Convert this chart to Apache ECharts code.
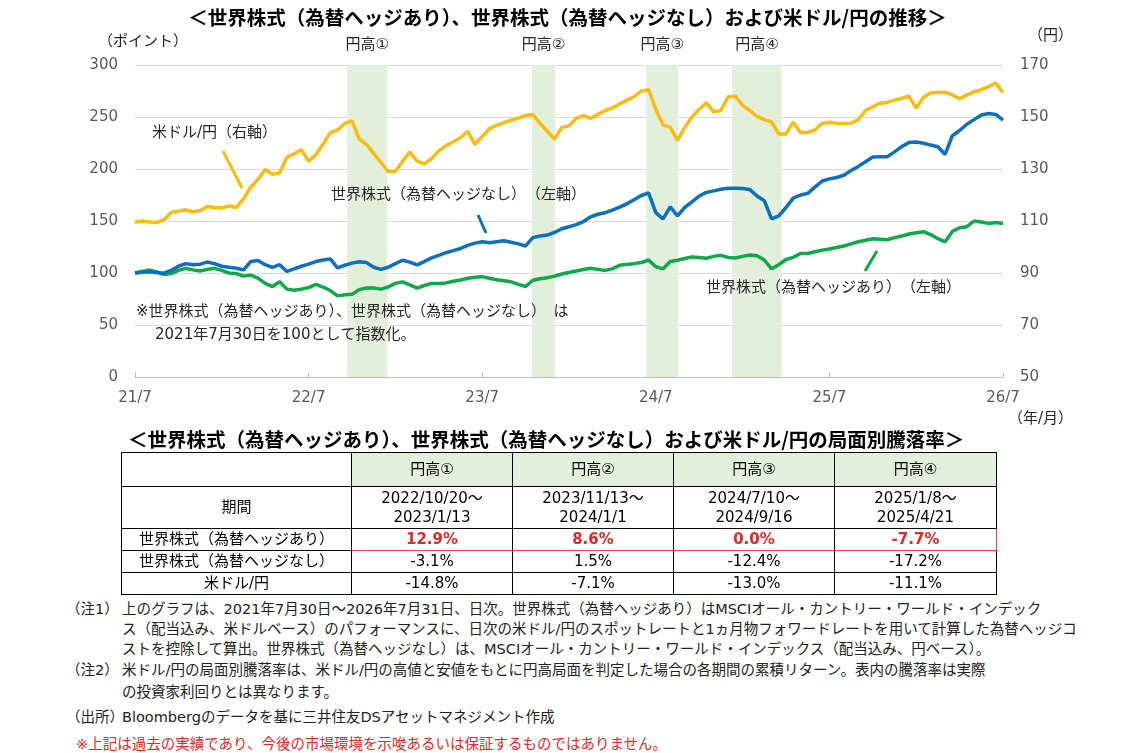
<!DOCTYPE html>
<html>
<head>
<meta charset="utf-8">
<script src="https://cdn.jsdelivr.net/npm/echarts@6/dist/echarts.min.js"></script>
<style>
  body { margin: 0; background: #fff; font-family: "DejaVu Sans", "Noto Sans CJK JP", sans-serif; color: #000; }
  #chart { position: absolute; left: 0; top: 0; width: 1135px; height: 430px; }
  .ttl { position: absolute; font-weight: bold; font-size: 19.5px; white-space: nowrap; font-family: "Noto Sans CJK JP", sans-serif; }
  table { position: absolute; left: 121px; top: 452px; border-collapse: collapse; font-size: 15px; }
  td { border: 1px solid #000; text-align: center; padding: 0; line-height: 19px; }
  .head td { height: 33px; }
  .head td.g { background: #e2efda; }
  .per td { height: 41px; }
  .r td { height: 21px; }
  .hl td.v { color: #e02a2a; font-weight: bold; border-top: 1.5px solid #e8474a; border-bottom: 1.5px solid #e8474a; }
  .hl td.v1 { border-left: 1.5px solid #e8474a; }
  .hl td.v4 { border-right: 1.5px solid #e8474a; }
  .note { position: absolute; font-size: 14.5px; white-space: nowrap; color: #222; }
  .red { color: #e02a2a; }
</style>
</head>
<body>
<div id="chart"></div>

<div class="ttl" style="left:128px; top:424px;">＜世界株式（為替ヘッジあり）、世界株式（為替ヘッジなし）および米ドル/円の局面別騰落率＞</div>
<table id="tbl"></table>

<div class="note" style="left:66px; top:597px;">（注1）</div>
<div class="note" style="left:122px; top:597px;">上のグラフは、2021年7月30日～2026年7月31日、日次。世界株式（為替ヘッジあり）はMSCIオール・カントリー・ワールド・インデック</div>
<div class="note" style="left:122px; top:617px;">ス（配当込み、米ドルベース）のパフォーマンスに、日次の米ドル/円のスポットレートと1ヵ月物フォワードレートを用いて計算した為替ヘッジコ</div>
<div class="note" style="left:122px; top:637px;">ストを控除して算出。世界株式（為替ヘッジなし）は、MSCIオール・カントリー・ワールド・インデックス（配当込み、円ベース）。</div>
<div class="note" style="left:66px; top:658px;">（注2）</div>
<div class="note" style="left:122px; top:658px;">米ドル/円の局面別騰落率は、米ドル/円の高値と安値をもとに円高局面を判定した場合の各期間の累積リターン。表内の騰落率は実際</div>
<div class="note" style="left:122px; top:680px;">の投資家利回りとは異なります。</div>
<div class="note" style="left:66px; top:705px;">（出所）</div>
<div class="note" style="left:122px; top:705px;">Bloombergのデータを基に三井住友DSアセットマネジメント作成</div>
<div class="note red" style="left:76px; top:732px;">※上記は過去の実績であり、今後の市場環境を示唆あるいは保証するものではありません。</div>

<script>
// 2021/7/30 から半月ごとの読み取り値（0 = 2021/7/30, 120 = 2026/7/31）
const xTickLabels = ['21/7', '22/7', '23/7', '24/7', '25/7', '26/7'];

// 米ドル/円（右軸）
const usdJpy = [
  109.5, 110.0, 109.6, 109.4, 110.5, 113.3, 113.8, 114.3, 113.6, 114.0,
  115.6, 115.2, 115.0, 115.8, 115.2, 118.5, 123, 126, 129.8, 128,
  128.5, 134.5, 135.8, 137.5, 133, 135.5, 139.5, 144, 145, 147.5,
  148.5, 141.5, 139.5, 136, 132.5, 129, 129, 133, 136.5, 133,
  132, 134, 137, 139, 140.5, 142, 144.5, 139.5, 142.5, 145.5,
  146.8, 147.8, 148.8, 149.6, 150.6, 151, 147.5, 144.5, 141.5, 146,
  146.5, 149.5, 150.5, 149.5, 151, 152.5, 153.5, 155, 156.5, 157.8,
  160, 160.5, 153, 147, 146, 141, 146, 150, 153, 155.5,
  152, 152.5, 157.8, 158, 154.5, 152.5, 150.2, 149, 148, 143.5,
  143.5, 148, 144, 144, 145, 147.5, 148, 147.6, 147.5, 147.6,
  149, 152.5, 154, 155.3, 155.6, 156.5, 157.2, 158, 153.5, 157.5,
  159.2, 159.5, 159.5, 158.5, 157, 158.5, 159.7, 160.5, 161.7, 163,
  159.5
];

// 世界株式（為替ヘッジなし）（左軸）
const stockUnhedged = [
  100, 100.8, 101.3, 100.5, 99.8, 102.5, 106.5, 109, 108, 108.5,
  110.5, 109, 106.5, 105.5, 104.5, 103, 111, 112, 108, 105.5,
  108, 101.5, 104, 106.5, 108.5, 111, 112.5, 113.5, 105, 107.5,
  109.5, 110.8, 110, 105.5, 103.5, 105.5, 109, 112.3, 110.5, 107.8,
  111, 114.5, 117, 119.5, 121.5, 123.6, 126.5, 128.7, 130, 129,
  130, 131, 129.5, 128, 126, 134, 135.5, 136.5, 139, 142.5,
  144.5, 146.5, 149.5, 154, 156.5, 158, 160.5, 163.3, 166.5, 170.5,
  174.5, 177, 158, 152, 163.5, 155, 163, 168.5, 174, 177.5,
  179, 180.5, 181.4, 181.6, 181.2, 180.2, 174, 169.5, 152, 155,
  163, 172, 175, 176.6, 182.5, 188.5, 190.5, 191.8, 194, 198.5,
  202.5, 207, 211.5, 211.8, 211.8, 216.5, 221.5, 225.5, 226, 224.7,
  223, 221.4, 214, 232, 237, 243, 247.5, 252, 253.3, 252.5,
  247
];

// 世界株式（為替ヘッジあり）（左軸）
const stockHedged = [
  100, 101.5, 102.8, 101, 98.5, 99.5, 102.5, 104.5, 103, 102,
  103.5, 104.5, 102.5, 100, 99.5, 97, 98, 95, 90, 87,
  91.5, 84.5, 83.5, 84.5, 86, 89, 86.5, 83, 78, 79,
  79.5, 84, 85.5, 85.5, 84.5, 86.5, 90, 91.5, 88.5, 85.5,
  88, 90, 90, 90.5, 92, 93.3, 95, 96, 96.5, 95,
  93.5, 92.5, 91.5, 89, 87, 93, 94.5, 95.5, 97, 99,
  100.5, 102, 103.3, 104.5, 103.5, 102.5, 104, 107.5, 108.3, 109,
  110, 112.5, 106, 104, 111, 112.3, 114, 115.5, 115, 114.2,
  116, 117, 115, 114.5, 116, 117.3, 116.5, 112.5, 104, 108,
  113, 115, 118.8, 118.8, 120.5, 122, 123, 124.5, 126, 128,
  130, 131.5, 133, 132.5, 132, 134, 135.5, 137.5, 138.7, 139.7,
  137, 133, 130, 140, 143.5, 144.5, 150, 149, 147.7, 148.5,
  147.5
];

// 円高局面
const periodNames = ['円高①', '円高②', '円高③', '円高④'];
const periodStart = ['2022/10/20', '2023/11/13', '2024/7/10', '2025/1/8'];
const periodEnd = ['2023/1/13', '2024/1/1', '2024/9/16', '2025/4/21'];

// 局面別騰落率
const rowLabels = ['世界株式（為替ヘッジあり）', '世界株式（為替ヘッジなし）', '米ドル/円'];
const retHedged = ['12.9%', '8.6%', '0.0%', '-7.7%'];
const retUnhedged = ['-3.1%', '1.5%', '-12.4%', '-17.2%'];
const retUsdJpy = ['-14.8%', '-7.1%', '-13.0%', '-11.1%'];

const FONT = '"DejaVu Sans", "Noto Sans CJK JP", sans-serif';
const JFONT = '"Noto Sans CJK JP", sans-serif';
const TXT = '#262626';

// 日付 -> 半月インデックス
const dateToIdx = (s) => {
  const [y, m, d] = s.split('/').map(Number);
  return ((y - 2021) * 12 + (m - 7)) * 2 + (d - 30) / 15.2;
};

const toPairs = (arr) => arr.map((v, i) => [i, v]);

const areaData = periodNames.map((name, i) => [
  { name, xAxis: dateToIdx(periodStart[i]) },
  { xAxis: dateToIdx(periodEnd[i]) }
]);

const note = (left, top, text) => ({
  type: 'text', left, top, z: 100,
  style: { text, fill: TXT, font: '15px ' + FONT }
});
const leader = (x1, y1, x2, y2, color) => ({
  type: 'line', z: 100,
  shape: { x1, y1, x2, y2 },
  style: { stroke: color, lineWidth: 3 }
});

const YEL = '#fbbb13', BLU = '#0d6fbf', GRN = '#10a84a';

const chart = echarts.init(document.getElementById('chart'));

chart.setOption({
  animation: false,
  textStyle: { fontFamily: FONT },
  title: {
    text: '＜世界株式（為替ヘッジあり）、世界株式（為替ヘッジなし）および米ドル/円の推移＞',
    left: 'center',
    top: 3,
    textStyle: { fontSize: 19.5, fontWeight: 'bold', color: '#000', fontFamily: JFONT }
  },
  grid: { left: 135, right: 132, top: 65, bottom: 53 },
  xAxis: {
    type: 'value',
    min: 0,
    max: 120,
    interval: 24,
    axisLine: { lineStyle: { color: '#bfbfbf' } },
    axisTick: { inside: true, length: 5, lineStyle: { color: '#bfbfbf' } },
    splitLine: { show: false },
    axisLabel: {
      fontSize: 15,
      color: '#595959',
      margin: 14,
      formatter: (v) => xTickLabels[Math.round(v / 24)]
    }
  },
  yAxis: [
    {
      type: 'value',
      min: 0,
      max: 300,
      interval: 50,
      axisLine: { show: false },
      axisTick: { show: false },
      splitLine: { lineStyle: { color: '#d9d9d9', width: 1 } },
      axisLabel: { fontSize: 15, color: '#595959', margin: 17 }
    },
    {
      type: 'value',
      min: 50,
      max: 170,
      interval: 20,
      axisLine: { show: false },
      axisTick: { show: false },
      splitLine: { show: false },
      axisLabel: { fontSize: 15, color: '#595959', margin: 17 }
    }
  ],
  series: [
    {
      name: '米ドル/円',
      type: 'line',
      yAxisIndex: 1,
      data: toPairs(usdJpy),
      showSymbol: false,
      lineStyle: { color: YEL, width: 3.5 },
      itemStyle: { color: YEL },
      z: 3,
      markArea: {
        silent: true,
        itemStyle: { color: '#e2efda' },
        label: {
          show: true,
          position: 'top',
          distance: 12,
          fontSize: 15,
          color: TXT,
          fontFamily: FONT
        },
        data: areaData
      }
    },
    {
      name: '世界株式（為替ヘッジあり）',
      type: 'line',
      data: toPairs(stockHedged),
      showSymbol: false,
      lineStyle: { color: GRN, width: 3.5 },
      itemStyle: { color: GRN },
      z: 4
    },
    {
      name: '世界株式（為替ヘッジなし）',
      type: 'line',
      data: toPairs(stockUnhedged),
      showSymbol: false,
      lineStyle: { color: BLU, width: 3.5 },
      itemStyle: { color: BLU },
      z: 5
    }
  ],
  graphic: [
    note(98, 35, '（ポイント）'),
    note(1028, 29, '（円）'),
    note(1008, 412, '（年/月）'),
    note(152, 126, '米ドル/円（右軸）'),
    leader(223, 151, 242, 188, YEL),
    note(331, 188, '世界株式（為替ヘッジなし）　（左軸）'),
    leader(478, 215, 486, 233, BLU),
    note(706, 281, '世界株式（為替ヘッジあり）　（左軸）'),
    leader(877, 251, 865, 271, GRN),
    note(136, 305, '※世界株式（為替ヘッジあり）、世界株式（為替ヘッジなし）　は'),
    note(155, 328, '2021年7月30日を100として指数化。')
  ]
});

// 表
const tbl = document.getElementById('tbl');
const colW = [230, 161, 161, 161, 162];
let html = '<colgroup>' + colW.map(w => `<col style="width:${w}px">`).join('') + '</colgroup>';
html += '<tr class="head"><td></td>' + periodNames.map(n => `<td class="g">${n}</td>`).join('') + '</tr>';
html += '<tr class="per"><td>期間</td>' + periodStart.map((s, i) => `<td>${s}～<br>${periodEnd[i]}</td>`).join('') + '</tr>';
const rows = [retHedged, retUnhedged, retUsdJpy];
rows.forEach((r, ri) => {
  const cls = ri === 0 ? 'r hl' : 'r';
  html += `<tr class="${cls}"><td>${rowLabels[ri]}</td>` +
    r.map((v, i) => `<td class="v v${i + 1}">${v}</td>`).join('') + '</tr>';
});
tbl.innerHTML = html;
</script>
</body>
</html>
